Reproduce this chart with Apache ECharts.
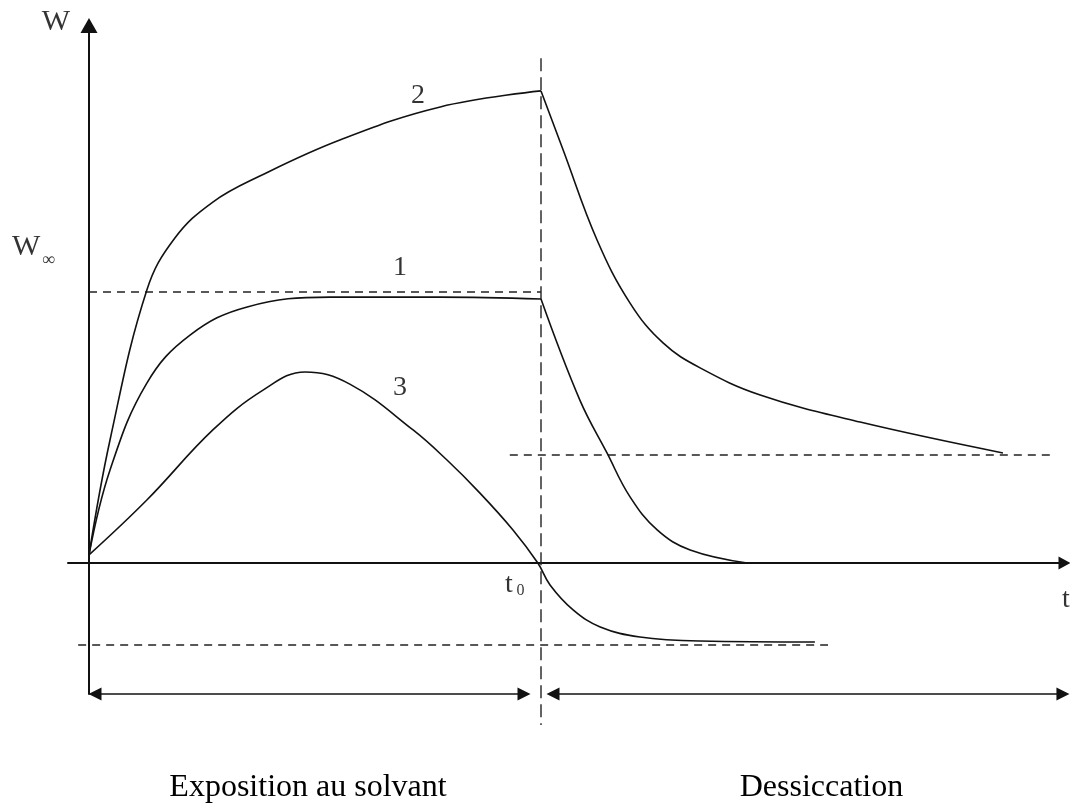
<!DOCTYPE html>
<html>
<head>
<meta charset="utf-8">
<script src="https://cdn.jsdelivr.net/npm/echarts@6/dist/echarts.min.js"></script>
<style>
html,body{margin:0;padding:0;background:#ffffff;}
#chart{width:1070px;height:807px;}
</style>
</head>
<body>
<div id="chart"></div>
<script>
// ---------- data (t in units of t0, W in units of W∞) ----------
const curve1Exposure = [[0,0.03],[0.0465,0.343],[0.128,0.664],[0.2235,0.841],[0.35,0.945],[0.533,0.981],[0.777,0.981],[1,0.974]];
const curve1Drying   = [[1,0.974],[1.086,0.601],[1.146,0.406],[1.197,0.244],[1.257,0.122],[1.33,0.048],[1.456,0]];

const curve2Exposure = [[0,0.03],[0.0465,0.454],[0.128,1.007],[0.19,1.199],[0.274,1.332],[0.378,1.428],[0.555,1.561],[0.777,1.683],[1,1.742]];
const curve2Drying   = [[1,1.742],[1.049,1.524],[1.124,1.192],[1.197,0.959],[1.27,0.812],[1.352,0.72],[1.485,0.62],[1.706,0.52],[2.022,0.406]];

const curve3 = [[0,0.03],[0.128,0.2325],[0.274,0.491],[0.385,0.638],[0.478,0.705],[0.577,0.66],[0.717,0.491],[0.792,0.38],[0.865,0.258],[0.938,0.122],[0.993,0],[1.02,-0.081],[1.071,-0.173],[1.131,-0.236],[1.219,-0.273],[1.352,-0.288],[1.606,-0.2915]];

// equilibrium levels and their drawn extents
const W_INF = 1;
const W_RESIDUAL_2 = 0.3985;
const W_RESIDUAL_3 = -0.3026;
const wInfGuide = [[0, W_INF], [1, W_INF]];
const residual2Guide = [[0.931, W_RESIDUAL_2], [2.137, W_RESIDUAL_2]];
const residual3Guide = [[-0.024, W_RESIDUAL_3], [1.635, W_RESIDUAL_3]];
const t0Guide = [[1, 1.863], [1, -0.598]];

// phases (bottom double arrows)
const phaseNames = ['Exposition au solvant', 'Dessiccation'];
const phaseStart = [0, 1.0133];
const phaseEnd = [0.9757, 2.168];
const W_PHASE = -0.4833;

// annotations: text, anchor (t, W), font size
const annoText = ['W', 'W', '∞', 't', '0', 't', '1', '2', '3'];
const annoT    = [-0.073, -0.139, -0.0896, 0.9292, 0.9547, 2.1615, 0.6881, 0.7279, 0.6881];
const annoW    = [1.9945, 1.1661, 1.118, -0.0812, -0.1015, -0.1365, 1.0886, 1.7232, 0.6458];
const annoSize = [30, 30, 18, 28, 16, 28, 28, 28, 28];

// ---------- layout ----------
const PX_T = 452, PX_W = 271;           // pixels per unit
const T_MIN = -21 / PX_T, T_MAX = 975.5 / PX_T;
const W_MAX = 537.5 / PX_W, W_MIN = -131 / PX_W;
const ARROW_INSET = 6 / PX_T;

const FONT = "'Liberation Serif', 'Times New Roman', serif";
const INK = '#000';

function curve(name, data) {
  return {
    name: name, type: 'line', data: data, smooth: 0.4,
    showSymbol: false, symbol: 'none', silent: true, clip: false,
    lineStyle: { color: '#111', width: 1.6 }, z: 3
  };
}
function guide(name, data, dash) {
  return {
    name: name, type: 'line', data: data, showSymbol: false, symbol: 'none',
    silent: true, clip: false,
    lineStyle: { color: '#222', width: 1.4, type: dash }, z: 2
  };
}

const t0Series = guide('t0', t0Guide, [13, 6]);
t0Series.markLine = {
  silent: true,
  symbol: ['triangle', 'triangle'],
  symbolSize: 13,
  precision: 4,
  label: { show: false },
  lineStyle: { color: '#111', width: 1.6, type: 'solid' },
  data: phaseNames.map((n, i) => [
    { coord: [phaseStart[i] + ARROW_INSET, W_PHASE] },
    { coord: [phaseEnd[i] - ARROW_INSET, W_PHASE] }
  ])
};

const annoData = annoText.map((s, i) => ({
  value: [annoT[i], annoW[i]],
  name: s,
  label: { fontSize: annoSize[i] }
}));

const option = {
  backgroundColor: '#ffffff',
  animation: false,
  grid: { left: 68, right: 5.5, top: 25.5, bottom: 113 },
  xAxis: {
    type: 'value', min: T_MIN, max: T_MAX,
    axisLine: { show: true, onZero: true, symbol: ['none', 'triangle'], symbolSize: [13, 12],
                lineStyle: { color: '#111', width: 2 } },
    axisTick: { show: false }, axisLabel: { show: false }, splitLine: { show: false }
  },
  yAxis: {
    type: 'value', min: W_MIN, max: W_MAX,
    axisLine: { show: true, onZero: true, symbol: ['none', 'triangle'], symbolSize: [17, 15],
                lineStyle: { color: '#111', width: 2 } },
    axisTick: { show: false }, axisLabel: { show: false }, splitLine: { show: false }
  },
  series: [
    curve('1 exposition', curve1Exposure),
    curve('1 dessiccation', curve1Drying),
    curve('2 exposition', curve2Exposure),
    curve('2 dessiccation', curve2Drying),
    curve('3', curve3),
    guide('W∞', wInfGuide, [8, 6]),
    guide('résiduel 2', residual2Guide, [8, 6]),
    guide('résiduel 3', residual3Guide, [8, 6]),
    t0Series,
    {
      name: 'annotations', type: 'scatter', data: annoData, symbolSize: 1,
      itemStyle: { color: 'rgba(0,0,0,0)' }, silent: true, clip: false, z: 5,
      label: { show: true, position: 'inside', formatter: '{b}',
               fontFamily: FONT, color: INK }
    }
  ],
  graphic: [
    { type: 'text', x: 308, y: 788, silent: true,
      style: { text: phaseNames[0], fill: INK, font: '32px ' + FONT, align: 'center', verticalAlign: 'middle' } },
    { type: 'text', x: 821.5, y: 788, silent: true,
      style: { text: phaseNames[1], fill: INK, font: '32px ' + FONT, align: 'center', verticalAlign: 'middle' } }
  ]
};

const chart = echarts.init(document.getElementById('chart'), null, { renderer: 'canvas' });
chart.setOption(option);
</script>
</body>
</html>
